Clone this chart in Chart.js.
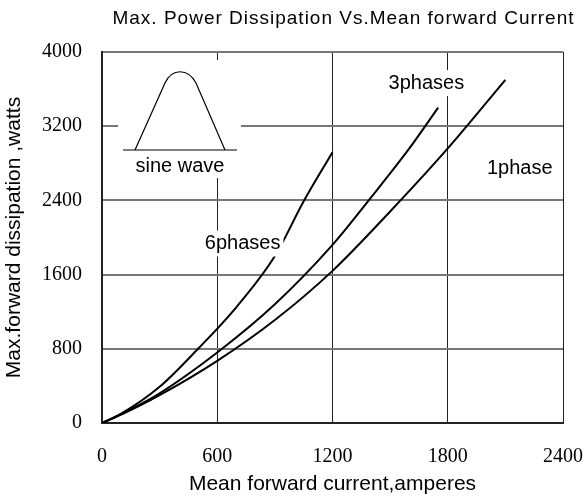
<!DOCTYPE html>
<html>
<head>
<meta charset="utf-8">
<script src="https://cdn.jsdelivr.net/npm/chart.js@4.4.1/dist/chart.umd.min.js"></script>
<style>
  html, body { margin: 0; padding: 0; background: #fff; }
  #wrap { width: 585px; height: 501px; }
</style>
</head>
<body>
<div id="wrap"><canvas id="powerChart" width="585" height="501"></canvas></div>
<script>
// mean forward current (A) vs max dissipation (W)
const onePhaseI   = [0, 100, 300, 600, 900, 1200, 1500, 1800, 2100];
const onePhaseP   = [0, 90, 300, 670, 1110, 1640, 2280, 2960, 3700];
const threePhaseI = [0, 100, 300, 600, 900, 1200, 1400, 1600, 1750];
const threePhaseP = [0, 95, 320, 760, 1280, 1920, 2430, 2960, 3400];
const sixPhaseI   = [0, 100, 300, 500, 700, 900, 1050, 1200];
const sixPhaseP   = [0, 100, 390, 800, 1250, 1800, 2390, 2920];

const xTicks = [0, 600, 1200, 1800, 2400];
const yTicks = [0, 800, 1600, 2400, 3200, 4000];

// curve labels, placed in data units
const curveLabels = ["3phases", "1phase", "6phases"];
const labelX = [1689, 2175, 732];
const labelY = [3665, 2746, 1935];

const TITLE = "Max. Power Dissipation Vs.Mean forward Current";

const toPoints = (xs, ys) => xs.map((x, i) => ({x: x, y: ys[i]}));

const lineStyle = {
  borderColor: "#000",
  borderWidth: 2,
  pointRadius: 0,
  fill: false,
  cubicInterpolationMode: "monotone"
};

// white-backed labels + the little sine wave inset, drawn over the curves
const notes = {
  id: "notes",
  afterDatasetsDraw(chart) {
    const ctx = chart.ctx;
    const xs = chart.scales.x, ys = chart.scales.y;
    const area = chart.chartArea;
    ctx.save();
    ctx.font = "20px 'Liberation Sans', Arial, sans-serif";
    ctx.textAlign = "center";
    ctx.textBaseline = "middle";
    curveLabels.forEach((t, i) => {
      const px = xs.getPixelForValue(labelX[i]);
      const py = ys.getPixelForValue(labelY[i]);
      const w = ctx.measureText(t).width + 6;
      ctx.fillStyle = "#fff";
      ctx.fillRect(px - w / 2, py - 13, w, 26);
      ctx.fillStyle = "#000";
      ctx.fillText(t, px, py);
    });

    // sine wave inset
    const l = area.left, tp = area.top;
    ctx.fillStyle = "#fff";
    ctx.fillRect(l + 16, tp + 8, 123, 118);
    ctx.strokeStyle = "#000";
    ctx.lineWidth = 1.2;
    ctx.beginPath();
    ctx.moveTo(l + 21, tp + 98);
    ctx.lineTo(l + 135, tp + 98);
    ctx.stroke();
    ctx.beginPath();
    ctx.moveTo(l + 33, tp + 98);
    ctx.lineTo(l + 63, tp + 31);
    ctx.bezierCurveTo(l + 70, tp + 16, l + 86, tp + 16, l + 94, tp + 31);
    ctx.lineTo(l + 123, tp + 98);
    ctx.stroke();
    ctx.fillStyle = "#000";
    ctx.fillText("sine wave", l + 78, tp + 114);

    // chart title, a bit right of the plot centre, loosely spaced
    ctx.font = "19px 'Liberation Sans', Arial, sans-serif";
    ctx.letterSpacing = "1px";
    ctx.fillText(TITLE, (area.left + area.right) / 2 + 11, 19);
    ctx.restore();
  }
};

const CHART = document.getElementById("powerChart");
let powerChart = new Chart(CHART, {
  type: "line",
  data: {
    datasets: [
      Object.assign({label: "1phase", data: toPoints(onePhaseI, onePhaseP)}, lineStyle),
      Object.assign({label: "3phases", data: toPoints(threePhaseI, threePhaseP)}, lineStyle),
      Object.assign({label: "6phases", data: toPoints(sixPhaseI, sixPhaseP)}, lineStyle)
    ]
  },
  options: {
    responsive: false,
    animation: false,
    layout: { padding: { left: 0, right: 0, top: 52, bottom: 0 } },
    plugins: {
      legend: { display: false },
      tooltip: { enabled: false },
      title: { display: false }
    },
    scales: {
      x: {
        type: "linear",
        min: 0, max: 2400,
        afterBuildTicks: (s) => { s.ticks = xTicks.map(v => ({value: v})); },
        ticks: { color: "#000", padding: 22, maxRotation: 0,
                 callback: (v) => String(v),
                 font: { family: "'Liberation Serif', serif", size: 20 } },
        grid: { color: "#222", lineWidth: 1, drawTicks: false },
        border: { color: "#222", width: 2 },
        title: { display: true, text: "Mean forward current,amperes", color: "#000",
                 font: { family: "'Liberation Sans', Arial, sans-serif", size: 21 }, padding: { top: 10 } },
        afterFit: (s) => { s.height = 78; s.paddingRight = 22; s.paddingLeft = 0; }
      },
      y: {
        min: 0, max: 4000,
        afterBuildTicks: (s) => { s.ticks = yTicks.map(v => ({value: v})); },
        ticks: { color: "#000", padding: 20,
                 callback: (v) => String(v),
                 font: { family: "'Liberation Serif', serif", size: 20 } },
        grid: { color: "#777", lineWidth: 2, drawTicks: false },
        border: { color: "#222", width: 2 },
        title: { display: true, text: "Max.forward dissipation ,watts", color: "#000",
                 font: { family: "'Liberation Sans', Arial, sans-serif", size: 21 }, padding: { top: 2, bottom: 4 } },
        afterFit: (s) => { s.width = 102; s.paddingTop = 0; s.paddingBottom = 0; }
      }
    }
  },
  plugins: [notes]
});
</script>
</body>
</html>
